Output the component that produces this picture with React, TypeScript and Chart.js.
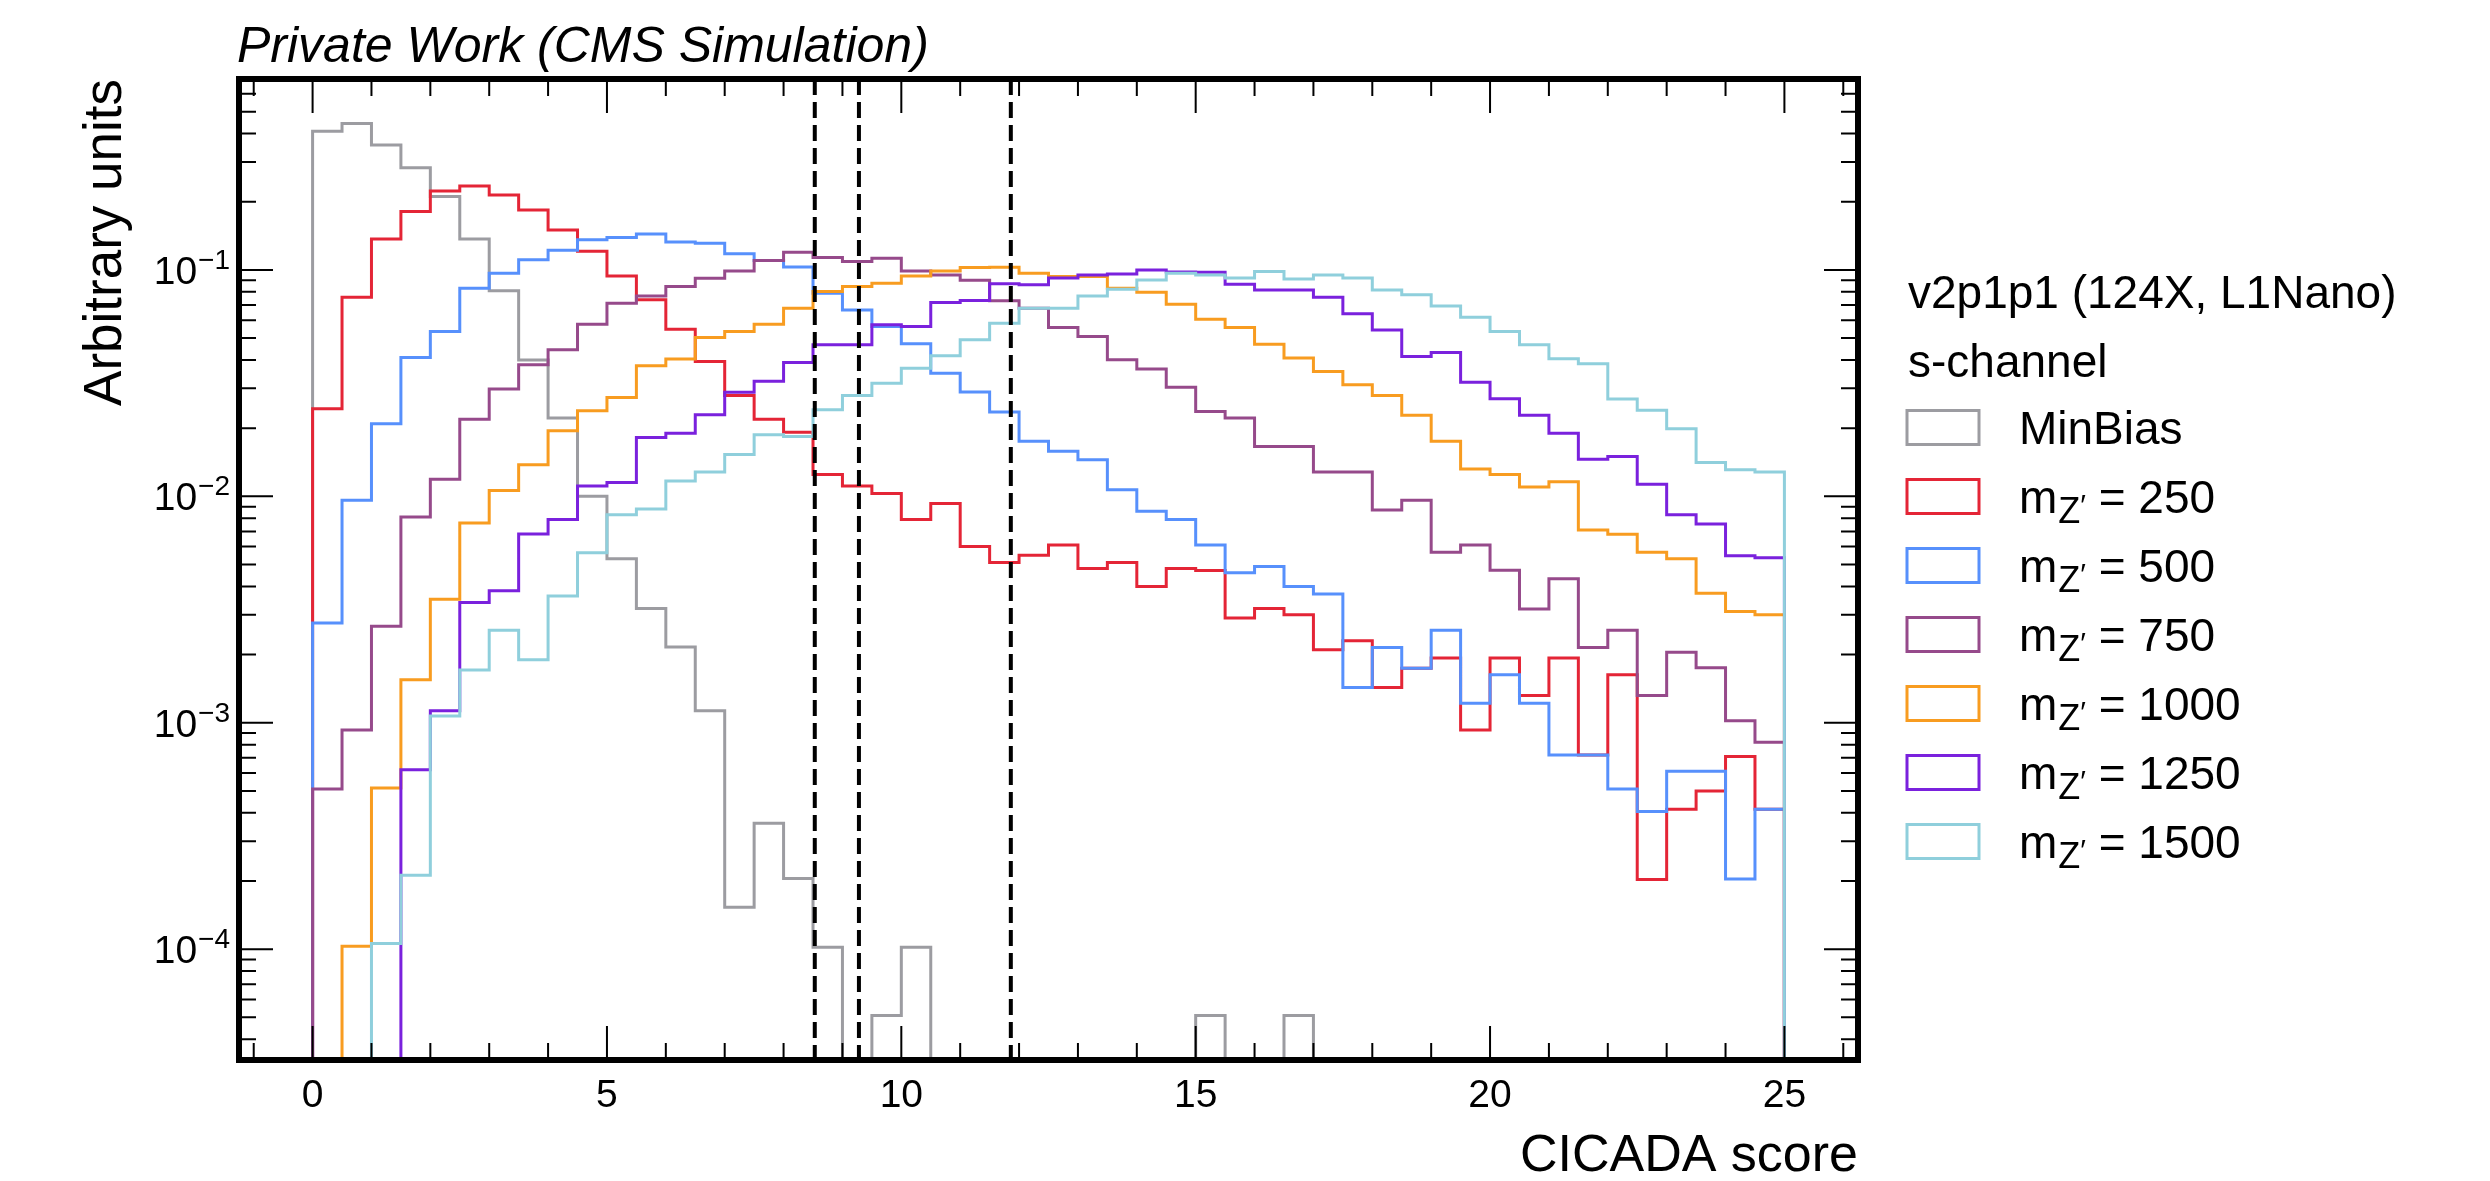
import React, { useEffect, useRef } from 'react';
import { Chart, registerables } from 'chart.js';

Chart.register(...registerables);

// ---------------- data ----------------
const binEdges = [
  0, 0.5, 1, 1.5, 2, 2.5, 3, 3.5, 4, 4.5, 5, 5.5, 6, 6.5, 7, 7.5, 8, 8.5, 9, 9.5,
  10, 10.5, 11, 11.5, 12, 12.5, 13, 13.5, 14, 14.5, 15, 15.5, 16, 16.5, 17, 17.5,
  18, 18.5, 19, 19.5, 20, 20.5, 21, 21.5, 22, 22.5, 23, 23.5, 24, 24.5, 25,
];

const minBias = [
  0.41, 0.443, 0.356, 0.283, 0.211, 0.137, 0.081, 0.04, 0.0222, 0.01,
  0.0053, 0.0032, 0.00216, 0.00113, 0.000153, 0.00036, 0.000205, 0.000102, 0, 0.000051,
  0.000102, 0, 0, 0, 0, 0, 0, 0, 0, 0,
  0.000051, 0, 0, 0.000051, 0, 0, 0, 0, 0, 0,
  0, 0, 0, 0, 0, 0, 0, 0, 0, 0,
];

const mz250 = [
  0.0244, 0.0757, 0.137, 0.181, 0.223, 0.235, 0.214, 0.184, 0.15, 0.121,
  0.094, 0.0738, 0.0547, 0.0394, 0.0279, 0.0219, 0.0192, 0.0125, 0.0111, 0.0103,
  0.0079, 0.0093, 0.006, 0.0051, 0.0055, 0.0061, 0.0048, 0.0051, 0.004, 0.0048,
  0.0047, 0.0029, 0.0032, 0.003, 0.0021, 0.0023, 0.00143, 0.00174, 0.00193, 0.00093,
  0.00193, 0.00132, 0.00193, 0.00072, 0.00163, 0.000203, 0.000415, 0.0005, 0.00071, 0.000415,
];

const mz500 = [
  0.00276, 0.0096, 0.0209, 0.041, 0.0535, 0.083, 0.0967, 0.111, 0.122, 0.136,
  0.139, 0.144, 0.133, 0.131, 0.118, 0.11, 0.103, 0.0789, 0.0666, 0.0562,
  0.0472, 0.035, 0.0289, 0.0236, 0.0175, 0.0158, 0.0145, 0.0107, 0.0086, 0.0079,
  0.0061, 0.0046, 0.0049, 0.004, 0.0037, 0.00143, 0.00215, 0.00174, 0.00256, 0.00122,
  0.00163, 0.00122, 0.00072, 0.00072, 0.00051, 0.000406, 0.00061, 0.00061, 0.000204, 0.000415,
];

const mz750 = [
  0.00051, 0.00093, 0.00267, 0.0081, 0.0119, 0.0219, 0.0298, 0.0381, 0.0444, 0.0576,
  0.0713, 0.0768, 0.0844, 0.0919, 0.099, 0.11, 0.1197, 0.1136, 0.109, 0.1126,
  0.099, 0.095, 0.09, 0.073, 0.0678, 0.0557, 0.0508, 0.0401, 0.0365, 0.0303,
  0.0237, 0.0222, 0.0166, 0.0166, 0.0128, 0.0128, 0.0087, 0.0096, 0.00566, 0.0061,
  0.00472, 0.00318, 0.00433, 0.00215, 0.00256, 0.00132, 0.00205, 0.00175, 0.00102, 0.00082,
];

const mz1000 = [
  0, 0.000103, 0.000515, 0.00155, 0.00351, 0.00762, 0.0106, 0.0138, 0.0195, 0.0239,
  0.0273, 0.0377, 0.0404, 0.0503, 0.0535, 0.0576, 0.0678, 0.0802, 0.0844, 0.0873,
  0.094, 0.099, 0.1025, 0.1027, 0.0967, 0.0935, 0.0935, 0.083, 0.0797, 0.0706,
  0.0606, 0.0557, 0.047, 0.0408, 0.0356, 0.0311, 0.0279, 0.0228, 0.0175, 0.0132,
  0.0125, 0.011, 0.0116, 0.0071, 0.0068, 0.00566, 0.0053, 0.00373, 0.0031, 0.003,
];

const mz1250 = [
  0, 0, 0, 0.00062, 0.00113, 0.0034, 0.00383, 0.00682, 0.0079, 0.0111,
  0.0115, 0.0182, 0.019, 0.0229, 0.0288, 0.0322, 0.039, 0.0467, 0.0467, 0.0572,
  0.0562, 0.0718, 0.0732, 0.0868, 0.086, 0.092, 0.095, 0.096, 0.1, 0.098,
  0.0977, 0.0865, 0.0816, 0.0816, 0.0757, 0.064, 0.0543, 0.0415, 0.0432, 0.0319,
  0.027, 0.0228, 0.019, 0.0146, 0.015, 0.0113, 0.0083, 0.00755, 0.00547, 0.00535,
];

const mz1500 = [
  0, 0, 0.000106, 0.000212, 0.00107, 0.00171, 0.00256, 0.0019, 0.00363, 0.00563,
  0.0083, 0.0088, 0.0117, 0.0128, 0.0153, 0.0187, 0.0184, 0.0241, 0.0279, 0.0316,
  0.0368, 0.0418, 0.0491, 0.0582, 0.0678, 0.0678, 0.0768, 0.0822, 0.0903, 0.0967,
  0.095, 0.092, 0.0983, 0.0912, 0.095, 0.092, 0.0816, 0.0776, 0.0693, 0.0618,
  0.0535, 0.0467, 0.0405, 0.0385, 0.0269, 0.024, 0.0199, 0.0141, 0.0131, 0.0128,
];

const seriesValues = [minBias, mz250, mz500, mz750, mz1000, mz1250, mz1500];
const seriesNames = ['MinBias', '250', '500', '750', '1000', '1250', '1500'];
const seriesColors = ['#9c9ca1', '#e42536', '#5790fc', '#964a8b', '#f89c20', '#7a21dd', '#8fcfdc'];

const cutValues = [8.53, 9.28, 11.86];
const xTickValues = [0, 5, 10, 15, 20, 25];
const yTickExponents = [-4, -3, -2, -1];
const legendTitleLines = ['v2p1p1 (124X, L1Nano)', 's-channel'];
const headerText = 'Private Work (CMS Simulation)';

const FONT = "'Liberation Sans', Arial, Helvetica, sans-serif";
Chart.defaults.font.family = FONT;

function histPoints(vals: number[]) {
  const floor = 1e-9;
  const pts: { x: number; y: number }[] = [{ x: binEdges[0], y: floor }];
  vals.forEach((v, i) => {
    const y = v > 0 ? v : floor;
    pts.push({ x: binEdges[i], y });
    pts.push({ x: binEdges[i + 1], y });
  });
  pts.push({ x: binEdges[binEdges.length - 1], y: floor });
  return pts;
}

const decorPlugin = {
  id: 'decor',
  afterDatasetsDraw(chart: any) {
    const { ctx, chartArea: a } = chart;
    const xs = chart.scales.x;
    ctx.save();
    ctx.beginPath();
    ctx.rect(a.left, a.top, a.right - a.left, a.bottom - a.top);
    ctx.clip();
    ctx.setLineDash([16, 7]);
    ctx.lineWidth = 4;
    ctx.strokeStyle = '#000';
    for (const v of cutValues) {
      const px = xs.getPixelForValue(v);
      ctx.beginPath();
      ctx.moveTo(px, a.top);
      ctx.lineTo(px, a.bottom);
      ctx.stroke();
    }
    ctx.restore();
  },
  afterDraw(chart: any) {
    const { ctx, chartArea: a } = chart;
    const xs = chart.scales.x;
    const ys = chart.scales.y;
    ctx.save();
    ctx.strokeStyle = '#000';
    ctx.fillStyle = '#000';
    ctx.lineWidth = 2;
    ctx.setLineDash([]);
    const MAJ = 34;
    const MIN = 17;
    const xTick = (v: number, len: number) => {
      const px = xs.getPixelForValue(v);
      ctx.beginPath();
      ctx.moveTo(px, a.bottom);
      ctx.lineTo(px, a.bottom - len);
      ctx.moveTo(px, a.top);
      ctx.lineTo(px, a.top + len);
      ctx.stroke();
    };
    const yTick = (v: number, len: number) => {
      const py = ys.getPixelForValue(v);
      ctx.beginPath();
      ctx.moveTo(a.left, py);
      ctx.lineTo(a.left + len, py);
      ctx.moveTo(a.right, py);
      ctx.lineTo(a.right - len, py);
      ctx.stroke();
    };
    for (let v = Math.ceil(xs.min); v <= Math.floor(xs.max); v++) {
      xTick(v, v % 5 === 0 ? MAJ : MIN);
    }
    for (let e = -6; e <= 0; e++) {
      for (let m = 1; m <= 9; m++) {
        const v = m * Math.pow(10, e);
        if (v < ys.min || v > ys.max) continue;
        yTick(v, m === 1 ? MAJ : MIN);
      }
    }
    // frame
    ctx.lineWidth = 6;
    ctx.strokeRect(a.left, a.top, a.right - a.left, a.bottom - a.top);

    // y tick labels 10^k
    ctx.textBaseline = 'alphabetic';
    for (const e of yTickExponents) {
      const py = ys.getPixelForValue(Math.pow(10, e));
      const sup = '\u2212' + Math.abs(e);
      const right = a.left - 9;
      ctx.font = `28px ${FONT}`;
      ctx.textAlign = 'right';
      const ws = ctx.measureText(sup).width;
      ctx.fillText(sup, right, py - 1);
      ctx.font = `39px ${FONT}`;
      ctx.fillText('10', right - ws - 1, py + 14);
    }

    // header
    ctx.textAlign = 'left';
    ctx.font = `italic 50px ${FONT}`;
    ctx.fillText(headerText, a.left - 2, 62);

    // legend
    ctx.font = `46px ${FONT}`;
    ctx.fillText(legendTitleLines[0], 1908, 308);
    ctx.fillText(legendTitleLines[1], 1908, 377);
    const rowBase0 = 444;
    const rowStep = 69;
    const tx = 2019;
    seriesNames.forEach((name, i) => {
      const base = rowBase0 + rowStep * i;
      const cy = base - 16.5;
      ctx.strokeStyle = seriesColors[i];
      ctx.lineWidth = 3;
      ctx.strokeRect(1907, cy - 17, 72, 34);
      ctx.fillStyle = '#000';
      ctx.font = `46px ${FONT}`;
      if (i === 0) {
        ctx.fillText(name, tx, base);
        return;
      }
      ctx.fillText('m', tx, base);
      let x = tx + ctx.measureText('m').width + 1;
      ctx.font = `36px ${FONT}`;
      ctx.fillText('Z', x, base + 10);
      x += ctx.measureText('Z').width;
      ctx.font = `30px ${FONT}`;
      ctx.fillText('\u2032', x, base + 2);
      x += ctx.measureText('\u2032').width;
      ctx.font = `46px ${FONT}`;
      ctx.fillText(' = ' + name, x, base);
    });
    ctx.restore();
  },
};

export default function App() {
  const ref = useRef<HTMLCanvasElement | null>(null);
  useEffect(() => {
    document.body.style.margin = '0';
    const canvas = ref.current;
    if (!canvas) return;
    const n = seriesValues.length;
    const datasets = seriesValues.map((vals, i) => ({
      label: seriesNames[i],
      data: histPoints(vals),
      borderColor: seriesColors[i],
      backgroundColor: seriesColors[i],
      borderWidth: 3,
      pointRadius: 0,
      fill: false,
      tension: 0,
      borderJoinStyle: 'miter' as const,
      borderCapStyle: 'butt' as const,
      order: n - i,
    }));
    const chart = new Chart(canvas, {
      type: 'line',
      data: { datasets },
      options: {
        animation: false,
        responsive: false,
        devicePixelRatio: 1,
        events: [],
        layout: { padding: { left: 0, right: 632, top: 79, bottom: 0 } },
        plugins: {
          legend: { display: false },
          tooltip: { enabled: false },
          title: { display: false },
        },
        scales: {
          x: {
            type: 'linear',
            min: -1.25,
            max: 26.25,
            afterBuildTicks: (s: any) => {
              s.ticks = xTickValues.map((v) => ({ value: v }));
            },
            afterFit: (s: any) => {
              s.height = 121;
            },
            grid: { display: false, drawTicks: false },
            border: { display: false },
            ticks: {
              color: '#000',
              font: { size: 39 },
              padding: 13,
              maxRotation: 0,
              autoSkip: false,
            },
            title: {
              display: true,
              text: 'CICADA score',
              align: 'end',
              color: '#000',
              font: { size: 52, lineHeight: 0.95 },
              padding: { top: 0, bottom: 0 },
            },
          },
          y: {
            type: 'logarithmic',
            min: 3.24e-5,
            max: 0.697,
            afterFit: (s: any) => {
              s.width = 239;
            },
            grid: { display: false, drawTicks: false },
            border: { display: false },
            ticks: { display: false },
            title: {
              display: true,
              text: 'Arbitrary units',
              align: 'end',
              color: '#000',
              font: { size: 53 },
              padding: { top: 75, bottom: 0 },
            },
          },
        },
      },
      plugins: [decorPlugin],
    } as any);
    return () => chart.destroy();
  }, []);
  return <canvas ref={ref} width={2490} height={1181} style={{ display: 'block' }} />;
}
